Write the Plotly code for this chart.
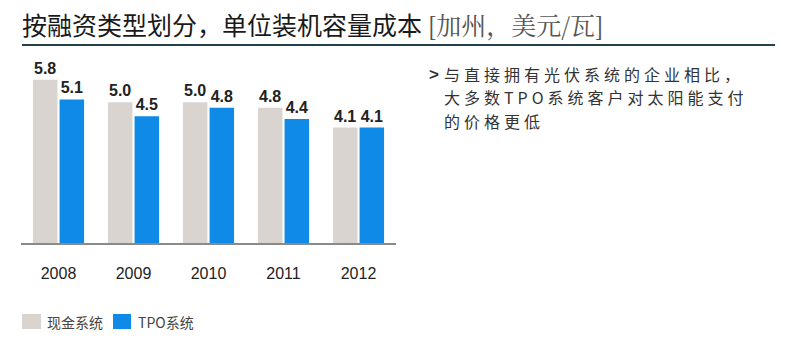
import plotly.graph_objects as go

years = ["2008", "2009", "2010", "2011", "2012"]
cash_cost = [5.8, 5.0, 5.0, 4.8, 4.1]
tpo_cost = [5.1, 4.5, 4.8, 4.4, 4.1]
series_names = ["现金系统", "TPO系统"]

title_main = "按融资类型划分，单位装机容量成本"
title_unit = "[加州，美元/瓦]"
note_lines = [
    "与直接拥有光伏系统的企业相比，",
    "大多数TPO系统客户对太阳能支付",
    "的价格更低",
]

GRAY = "#d9d4d0"
BLUE = "#0f8ae6"
W, H = 800, 340
ML, MR, MT, MB = 21, 404, 60, 97
PW, PH = W - ML - MR, H - MT - MB
NARROW = "Liberation Sans Narrow, Arial Narrow, Liberation Sans, Arial"


def px(x):
    return (x - ML) / PW


def py(y):
    return (H - MB - y) / PH


fig = go.Figure()
colors = [GRAY, BLUE]
for name, vals, col in zip(series_names, [cash_cost, tpo_cost], colors):
    fig.add_trace(go.Bar(
        x=years, y=vals, name=name, marker=dict(color=col, line=dict(width=0)),
        text=[f"<b>{v:.1f}</b>" for v in vals], textposition="outside",
        textfont=dict(family=NARROW, size=16, color="#222222"), cliponaxis=False,
        showlegend=False,
    ))

fig.update_layout(
    width=W, height=H,
    margin=dict(l=ML, r=MR, t=MT, b=MB, pad=0),
    paper_bgcolor="white", plot_bgcolor="white",
    barmode="group", bargap=0.29, bargroupgap=0.08,
    xaxis=dict(showgrid=False, showline=True, linecolor="#8a8a8a", linewidth=2,
               ticks="outside", ticklen=15, tickcolor="rgba(0,0,0,0)",
               tickfont=dict(family=NARROW, size=16, color="#222222"),
               range=[-0.5, 4.5], fixedrange=True),
    yaxis=dict(visible=False, range=[0, 6.5], showgrid=False, zeroline=False),
)

# legend: swatches and labels
legend_items = [(22, 41, 45), (113, 131, 136)]
for (x0, x1, tx), name, col in zip(legend_items, series_names, colors):
    fig.add_shape(type="rect", xref="paper", yref="paper",
                  x0=px(x0), x1=px(x1), y0=py(314), y1=py(329),
                  fillcolor=col, line=dict(width=0))
    fig.add_annotation(xref="paper", yref="paper", x=px(tx), y=py(322),
                       xanchor="left", yanchor="middle", text=name, showarrow=False,
                       font=dict(family="Noto Sans CJK SC", size=14, color="#444444"))

# title
fig.add_annotation(
    xref="paper", yref="paper", x=px(20), y=py(24), xanchor="left", yanchor="middle",
    text=(f"<span style='color:#1a1a1a'>{title_main}</span> "
          f"<span style='color:#555555;font-family:Noto Serif CJK SC, serif'>{title_unit}</span>"),
    font=dict(family="Noto Sans CJK SC", size=25, color="#1a1a1a"), showarrow=False,
)
# title rule
fig.add_shape(type="line", xref="paper", yref="paper",
              x0=px(22), x1=px(775), y0=py(45), y1=py(45),
              line=dict(color="#23404f", width=2))

# side note: a chevron and three tightly spaced lines
fig.add_annotation(
    xref="paper", yref="paper", x=px(427), y=py(74), xanchor="left", yanchor="middle",
    text="<b>&gt;</b>", font=dict(family="Liberation Sans", size=17, color="#333333"),
    showarrow=False,
)
for i, line in enumerate(note_lines):
    fig.add_annotation(
        xref="paper", yref="paper", x=px(443), y=py(74 + 23.3 * i),
        xanchor="left", yanchor="middle",
        text=f"<span style='letter-spacing:4px'>{line}</span>", align="left",
        font=dict(family="Noto Sans CJK SC", size=16, color="#333333"),
        showarrow=False, borderpad=0,
    )

fig.write_html("out.html")
